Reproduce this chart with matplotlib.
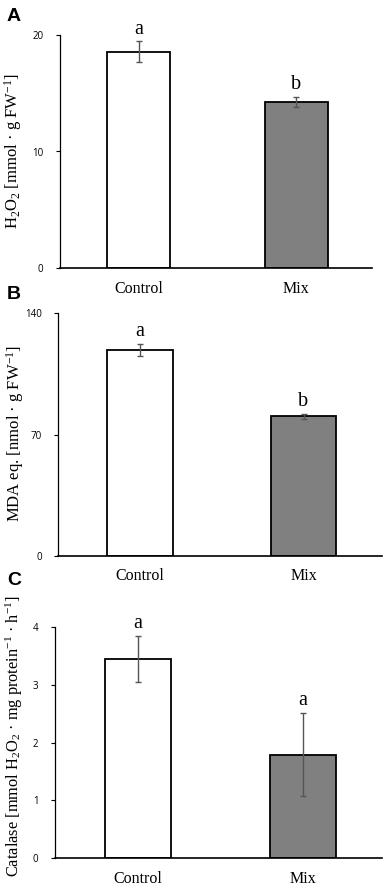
import matplotlib
matplotlib.use("Agg")
import matplotlib.pyplot as plt

plt.rcParams['mathtext.default'] = 'regular'
plt.rcParams['mathtext.fontset'] = 'stix'

categories = ["Control", "Mix"]
h2o2_mean = [18.55, 14.25]
h2o2_err = [0.9, 0.45]
h2o2_letters = ["a", "b"]
mda_mean = [118.8, 80.5]
mda_err = [3.6, 1.5]
mda_letters = ["a", "b"]
cat_mean = [3.44, 1.79]
cat_err = [0.40, 0.72]
cat_letters = ["a", "a"]

bar_colors = ["white", "#808080"]
W, H = 390, 888
fig = plt.figure(figsize=(W/100, H/100), dpi=100)

serif = ['Liberation Serif', 'DejaVu Serif']

panels = [
    dict(mean=h2o2_mean, err=h2o2_err, letters=h2o2_letters, ymax=20, ticks=[0, 10, 20],
         box=(60, 372, 35, 268), ylabel="H$_2$O$_2$ [mmol · g FW$^{-1}$]",
         ylab=(13, 151.5), tag="A", tagpos=(7, 8), lfs=12),
    dict(mean=mda_mean, err=mda_err, letters=mda_letters, ymax=140, ticks=[0, 70, 140],
         box=(58.3, 382, 313.3, 555.7), ylabel="MDA eq. [nmol · g FW$^{-1}$]",
         ylab=(15, 433), tag="B", tagpos=(7, 286), lfs=12),
    dict(mean=cat_mean, err=cat_err, letters=cat_letters, ymax=4, ticks=[0, 1, 2, 3, 4],
         box=(55, 382, 626.7, 858.3),
         ylabel="Catalase [mmol H$_2$O$_2$ · mg protein$^{-1}$ · h$^{-1}$]",
         ylab=(14.5, 736), tag="C", tagpos=(7, 572), lfs=11.8),
]

for p in panels:
    l, r, t, b = p['box']
    ax = fig.add_axes([l/W, 1 - b/H, (r-l)/W, (b-t)/H])
    x = range(len(categories))
    ax.bar(x, p['mean'], width=0.4, color=bar_colors, edgecolor='black', linewidth=1.3, zorder=2)
    ax.errorbar(x, p['mean'], yerr=p['err'], fmt='none', ecolor='#555555',
                elinewidth=1.0, capsize=2.0, capthick=1.0, zorder=3)
    for xi, m, e, let in zip(x, p['mean'], p['err'], p['letters']):
        ax.annotate(let, (xi, m + e), xytext=(0, 2), textcoords='offset points',
                    ha='center', va='bottom', fontsize=14.5, family=serif)
    ax.set_xlim(-0.5, 1.48)
    ax.set_ylim(0, p['ymax'])
    ax.set_yticks(p['ticks'])
    ax.set_yticklabels([str(v) for v in p['ticks']], fontsize=7, family='Open Sans')
    ax.set_xticks(list(x))
    ax.set_xticklabels(categories, fontsize=11.5, family=serif)
    ax.tick_params(axis='x', length=0, pad=9)
    ax.tick_params(axis='y', length=3, width=0.8, pad=9, direction='out')
    for s in ['top', 'right']:
        ax.spines[s].set_visible(False)
    ax.spines['left'].set_linewidth(0.9)
    ax.spines['bottom'].set_linewidth(1.2)
    ax.set_ylabel(p['ylabel'], fontsize=p['lfs'], family=serif, va='center')
    lx, ly = p['ylab']
    ax.yaxis.set_label_coords((lx - l)/(r - l), (b - ly)/(b - t))
    tx, ty = p['tagpos']
    fig.text(tx/W, 1 - ty/H, p['tag'], fontsize=14, fontweight='bold',
             family=['Liberation Sans', 'DejaVu Sans'], ha='left', va='top')

fig.savefig("out.png", dpi=100, facecolor='white')
